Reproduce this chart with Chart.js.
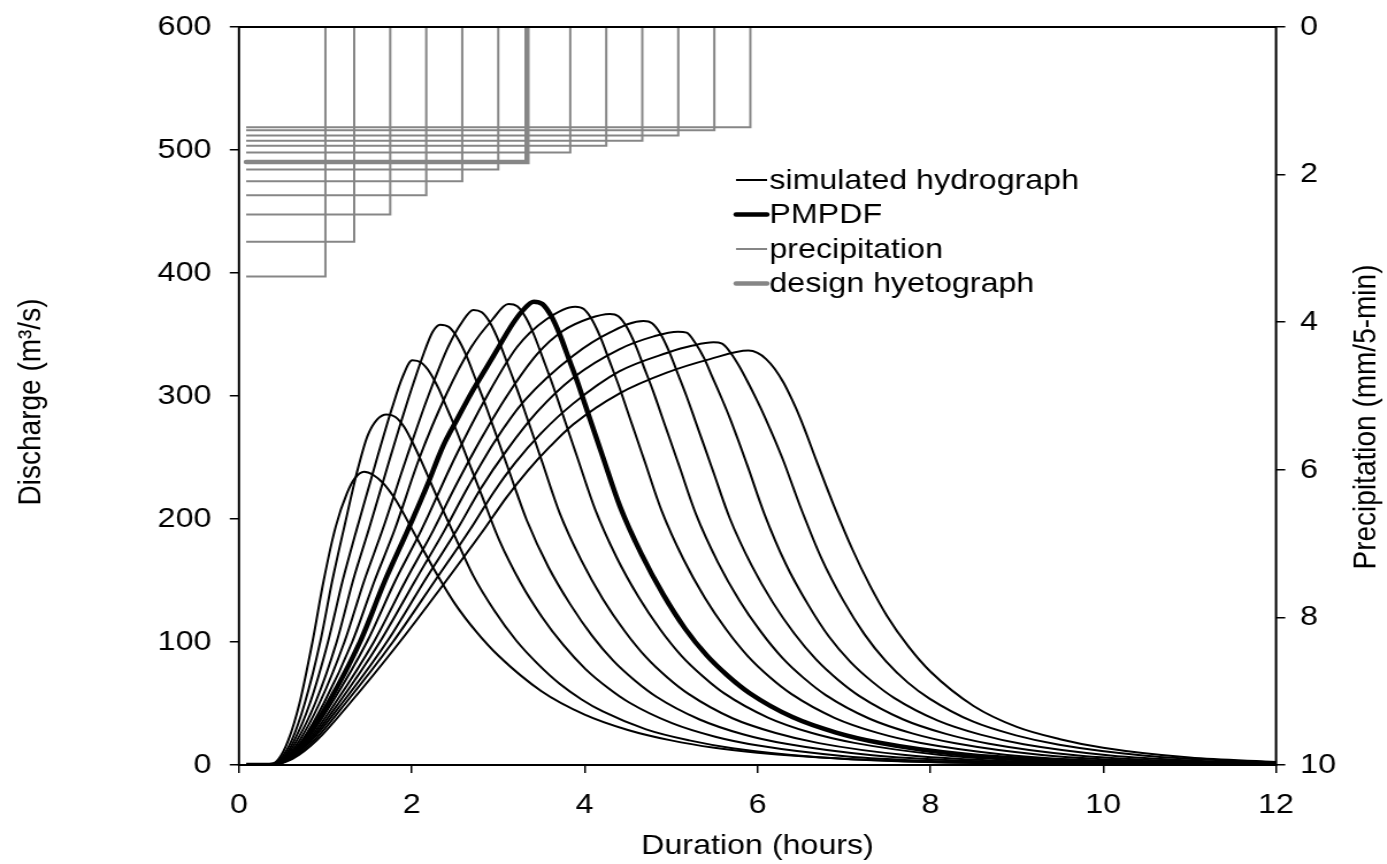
<!DOCTYPE html>
<html>
<head>
<meta charset="utf-8">
<title>Hydrographs and hyetographs</title>
<script src="https://cdn.jsdelivr.net/npm/chart.js@4.4.1/dist/chart.umd.min.js"></script>
<style>
  html, body { margin: 0; padding: 0; background: #fff; overflow: hidden; }
  /* the chart is laid out narrower and widened on screen */
  #wrap { width: 1206px; height: 864px; transform: scaleX(1.15); transform-origin: 0 0; }
</style>
</head>
<body>
<div id="wrap"><canvas id="chart"></canvas></div>
<script>
// storms start at 5 min; end times in hours, depth in mm per 5 min
const rainStart = 0.083;
const rainEnd = [1.0, 1.333, 1.75, 2.167, 2.583, 3.0, 3.333, 3.833, 4.25, 4.667, 5.083, 5.5, 5.917];
const rainDepth = [3.38, 2.91, 2.54, 2.28, 2.09, 1.93, 1.83, 1.70, 1.61, 1.54, 1.47, 1.40, 1.36];
const designIndex = 6;

// simulated discharge [hours, m3/s] for each storm length
const flow60 = [[0.083,0],[0.35,0],[0.46,5],[0.57,20],[0.70,50],[0.85,100],[0.98,150],[1.12,194],[1.25,221],[1.34,233],[1.447,238.5],[1.55,236],[1.67,229],[1.79,218],[1.90,205],[2.0,192],[2.25,160],[2.5,131],[2.75,108],[3.0,89],[3.5,60],[4.0,41],[4.5,28.5],[5.0,20],[5.5,14],[6.0,10],[7.0,5],[8.0,2.4],[9.0,1.1],[10,0.5],[12,0]];
const flow80 = [[0.083,0],[0.35,0],[0.48,5],[0.61,20],[0.76,50],[0.94,100],[1.08,150],[1.21,191],[1.38,242],[1.49,268],[1.60,281],[1.709,285],[1.81,283],[1.91,275],[2.01,262],[2.11,247],[2.21,231],[2.31,215],[2.51,184],[2.71,154],[2.96,125],[3.21,101],[3.46,82],[3.71,66],[3.96,53.5],[4.21,43.5],[4.71,29],[5.21,20],[5.71,13.7],[6.71,6.3],[7.71,2.9],[9,1.2],[12,0.1]];
const flow105 = [[0.083,0],[0.35,0],[0.50,5],[0.64,20],[0.82,50],[1.03,100],[1.20,150],[1.36,191],[1.60,250],[1.77,290],[1.89,315],[2.006,329],[2.11,327],[2.21,319],[2.31,306],[2.41,289.5],[2.51,273],[2.61,255],[2.81,219],[3.01,183],[3.26,148],[3.51,120],[3.76,97],[4.01,78],[4.26,63.2],[4.51,51],[5.01,34],[5.51,23],[6.01,15.8],[7.01,7.2],[8.01,3.3],[9.5,1.2],[12,0.2]];
const flow130 = [[0.083,0],[0.35,0],[0.51,5],[0.67,20],[0.88,50],[1.13,100],[1.32,150],[1.50,191],[1.75,250],[1.97,300],[2.14,335],[2.24,352],[2.326,358],[2.43,356],[2.53,347],[2.63,333],[2.73,315],[2.83,297],[2.93,277.5],[3.13,238],[3.33,199],[3.58,161],[3.83,131],[4.08,105.6],[4.33,84.8],[4.58,68.7],[4.83,55.5],[5.33,37],[5.83,25],[6.33,17.2],[7.33,7.9],[8.33,3.6],[10,1.1],[12,0.3]];
const flow155 = [[0.083,0],[0.35,0],[0.52,5],[0.70,20],[0.93,50],[1.22,100],[1.45,150],[1.66,191],[1.94,250],[2.19,300],[2.42,340],[2.58,360],[2.712,370],[2.81,368],[2.91,359],[3.01,344],[3.11,325.6],[3.21,307],[3.31,287],[3.51,246],[3.71,205],[3.96,166.5],[4.21,135],[4.46,109.2],[4.71,87.7],[4.96,71],[5.21,57.4],[5.71,38],[6.21,26],[6.71,17.8],[7.71,8.1],[8.71,3.7],[10,1.5],[12,0.4]];
const flow180 = [[0.083,0],[0.35,0],[0.53,5],[0.73,20],[0.98,50],[1.31,100],[1.57,150],[1.80,191],[2.09,250],[2.39,300],[2.69,340],[2.93,362],[3.117,374.8],[3.22,373],[3.32,363.6],[3.42,348.6],[3.52,330],[3.62,311],[3.72,290.5],[3.92,249],[4.12,208],[4.37,168.7],[4.62,137],[4.87,110.6],[5.12,88.8],[5.37,72],[5.62,58],[6.12,38.6],[6.62,26.2],[7.12,18],[8.12,8.2],[9.12,3.7],[10.5,1.3],[12,0.5]];
const flowPMPDF = [[0.083,0],[0.35,0],[0.55,5],[0.76,20],[1.03,50],[1.40,100],[1.69,150],[1.96,192],[2.17,226],[2.36,259],[2.52,280.5],[2.71,305],[2.94,332],[3.17,359],[3.29,370],[3.41,376.7],[3.51,374.8],[3.61,365.4],[3.71,350.3],[3.81,331.5],[3.91,312.7],[4.01,291.9],[4.21,250.5],[4.41,210],[4.66,171],[4.91,138.5],[5.16,111.1],[5.41,89.3],[5.66,72.3],[5.91,58.4],[6.41,38.8],[6.91,26.4],[7.41,18.1],[8.41,8.3],[9.41,3.8],[10.5,1.6],[12,0.6]];
const flow230 = [[0.083,0],[0.35,0],[0.56,5],[0.78,20],[1.07,50],[1.48,100],[1.81,150],[2.11,191],[2.50,250],[2.87,300],[3.22,340],[3.55,362],[3.89,372.6],[3.99,370.7],[4.09,361.4],[4.19,346.5],[4.29,327.9],[4.39,309.3],[4.49,288.8],[4.69,247.8],[4.89,206.8],[5.14,167.7],[5.39,136],[5.64,109.9],[5.89,88.3],[6.14,71.5],[6.39,57.8],[6.89,38.4],[7.39,26.1],[7.89,17.9],[8.89,8.2],[9.89,3.7],[12,0.8]];
const flow255 = [[0.083,0],[0.35,0],[0.57,5],[0.80,20],[1.11,50],[1.56,100],[1.93,150],[2.25,191],[2.5,226],[2.8,265],[3.1,300],[3.45,334],[3.75,353],[4.05,363],[4.29,366.7],[4.39,364.9],[4.49,355.7],[4.59,341],[4.69,322.7],[4.79,304.4],[4.89,284.2],[5.09,243.9],[5.29,203.5],[5.54,165],[5.79,133.8],[6.04,108.2],[6.29,86.9],[6.54,70.4],[6.79,56.8],[7.29,37.8],[7.79,25.7],[8.29,17.6],[9.29,8.1],[10.29,3.7],[12,1.0]];
const flow280 = [[0.083,0],[0.35,0],[0.58,5],[0.82,20],[1.15,50],[1.63,100],[2.04,150],[2.38,191],[2.65,226],[2.95,262],[3.30,296],[3.87,333],[4.30,352],[4.68,361],[4.78,359.2],[4.88,350.2],[4.98,335.7],[5.08,317.7],[5.18,299.6],[5.28,279.8],[5.48,240.1],[5.68,200.4],[5.93,162.5],[6.18,131.8],[6.43,106.5],[6.68,85.6],[6.93,69.3],[7.18,56],[7.68,37.2],[8.18,25.3],[8.68,17.3],[9.68,7.9],[10.68,3.6],[12,1.3]];
const flow305 = [[0.083,0],[0.35,0],[0.59,5],[0.84,20],[1.19,50],[1.71,100],[2.15,150],[2.52,191],[2.8,225],[3.1,256],[3.45,287],[3.87,315],[4.40,338],[4.80,348.5],[5.08,352.3],[5.18,351.5],[5.28,343],[5.38,331],[5.48,315],[5.58,299],[5.68,282],[5.88,244],[6.08,204],[6.33,163],[6.58,131],[6.83,104],[7.08,83.5],[7.33,67.6],[7.58,54.6],[8.08,36.3],[8.58,24.7],[9.08,16.9],[10.08,7.8],[11.08,3.5],[12,1.6]];
const flow330 = [[0.083,0],[0.35,0],[0.60,5],[0.87,20],[1.23,50],[1.78,100],[2.27,150],[2.67,191],[2.95,222],[3.2,246],[3.5,270],[3.87,294],[4.40,320],[4.95,335],[5.25,341],[5.49,343.6],[5.59,342.5],[5.69,335],[5.79,324],[5.89,311],[5.99,297],[6.09,282],[6.29,249],[6.49,211],[6.74,168],[6.99,134],[7.24,106],[7.49,84],[7.74,67],[7.99,54],[8.49,35.4],[8.99,24.1],[9.49,16.5],[10.49,7.6],[11.49,3.4],[12,2.2]];
const flow355 = [[0.083,0],[0.35,0],[0.62,5],[0.90,20],[1.28,50],[1.86,100],[2.40,150],[2.83,191],[3.1,218],[3.35,240],[3.6,259],[3.87,277],[4.40,302],[4.95,319],[5.45,330],[5.895,336.9],[6.0,335],[6.1,330],[6.2,322],[6.3,311],[6.4,297],[6.5,281],[6.7,244],[6.9,208],[7.1,175],[7.3,146],[7.5,121],[7.75,96],[8.0,76],[8.5,48],[9.0,31],[9.5,21],[10,14],[11,6],[12,2.5]];

const flows = [flow60, flow80, flow105, flow130, flow155, flow180, flowPMPDF, flow230, flow255, flow280, flow305, flow330, flow355];

const xTicks = [0, 2, 4, 6, 8, 10, 12];
const qTicks = [0, 100, 200, 300, 400, 500, 600];
const pTicks = [0, 2, 4, 6, 8, 10];

const legendLabels = ['simulated hydrograph', 'PMPDF', 'precipitation', 'design hyetograph'];

const GRAY = '#868686';
const FONT_FAMILY = '"Liberation Sans", Arial, sans-serif';
const FONT_SIZE = 28;

Chart.defaults.font.family = FONT_FAMILY;
Chart.defaults.font.size = FONT_SIZE;
Chart.defaults.color = '#000';

// step outline of one storm: flat at its depth, then back up to zero
function stormLine(i) {
    return [[rainStart, rainDepth[i]], [rainEnd[i], rainDepth[i]], [rainEnd[i], 0]];
}

let datasets = [];

datasets.push({
    label: 'PMPDF',
    data: flowPMPDF,
    yAxisID: 'y',
    borderColor: '#000',
    borderWidth: 4.5,
    cubicInterpolationMode: 'monotone'
});

flows.forEach((f, i) => {
    if (i === designIndex) return;
    datasets.push({
        label: 'simulated hydrograph',
        data: f,
        yAxisID: 'y',
        borderColor: '#000',
        borderWidth: 2,
        cubicInterpolationMode: 'monotone'
    });
});

datasets.push({
    label: 'design hyetograph',
    data: stormLine(designIndex),
    yAxisID: 'y1',
    borderColor: GRAY,
    borderWidth: 4.5,
    borderCapStyle: 'round',
    tension: 0
});

rainEnd.forEach((e, i) => {
    if (i === designIndex) return;
    datasets.push({
        label: 'precipitation',
        data: stormLine(i),
        yAxisID: 'y1',
        borderColor: GRAY,
        borderWidth: 2,
        tension: 0
    });
});

datasets.forEach(d => {
    d.pointRadius = 0;
    d.pointHoverRadius = 0;
    d.fill = false;
});

// box round the plot, axis titles and the legend
const decorations = {
    id: 'decorations',
    afterDatasetsDraw(chart) {
        const ctx = chart.ctx;
        const a = chart.chartArea;
        ctx.save();
        ctx.strokeStyle = '#000';
        ctx.lineWidth = 2;
        ctx.strokeRect(a.left, a.top, a.right - a.left, a.bottom - a.top);
        ctx.restore();
    },
    afterDraw(chart) {
        const ctx = chart.ctx;
        const a = chart.chartArea;
        ctx.save();
        ctx.fillStyle = '#000';
        ctx.font = FONT_SIZE + 'px ' + FONT_FAMILY;
        ctx.textAlign = 'center';
        ctx.textBaseline = 'alphabetic';
        ctx.fillText('Duration (hours)', (a.left + a.right) / 2, 854);

        ctx.textBaseline = 'middle';
        ctx.save();
        ctx.translate(27, 402);
        ctx.rotate(-Math.PI / 2);
        ctx.fillText('Discharge (m\u00b3/s)', 0, 0);
        ctx.restore();

        ctx.save();
        ctx.translate(1188, 417);
        ctx.rotate(-Math.PI / 2);
        ctx.fillText('Precipitation (mm/5-min)', 0, 0);
        ctx.restore();

        const styles = [['#000', 2], ['#000', 4.5], [GRAY, 2], [GRAY, 4.5]];
        const rowY = [180, 214.5, 249, 283.5];
        ctx.textAlign = 'left';
        ctx.textBaseline = 'alphabetic';
        legendLabels.forEach((text, i) => {
            ctx.beginPath();
            ctx.strokeStyle = styles[i][0];
            ctx.lineWidth = styles[i][1];
            ctx.lineCap = styles[i][1] > 3 ? 'round' : 'butt';
            ctx.moveTo(640, rowY[i]);
            ctx.lineTo(667, rowY[i]);
            ctx.stroke();
            ctx.fillText(text, 669, rowY[i] + 8.5);
        });
        ctx.restore();
    }
};

function tickGrid(len) {
    return {
        drawOnChartArea: false,
        drawTicks: true,
        tickLength: len,
        color: '#000',
        lineWidth: 1.5
    };
}

// fixed axis sizes so the plot box lands in the same place every time
function fixWidth(w) {
    return s => { s.width = w; s.paddingTop = 0; s.paddingBottom = 0; };
}

new Chart(document.getElementById('chart'), {
    type: 'line',
    data: { datasets: datasets },
    options: {
        responsive: true,
        maintainAspectRatio: false,
        animation: false,
        events: [],
        layout: { padding: { top: 27, left: 0, right: 0, bottom: 0 } },
        plugins: {
            legend: { display: false },
            tooltip: { enabled: false }
        },
        scales: {
            x: {
                type: 'linear',
                min: xTicks[0],
                max: xTicks[xTicks.length - 1],
                afterBuildTicks: s => { s.ticks = xTicks.map(v => ({ value: v })); },
                afterFit: s => { s.height = 99; s.paddingLeft = 0; s.paddingRight = 0; },
                grid: tickGrid(8),
                border: { display: false },
                ticks: { padding: 15, maxRotation: 0 }
            },
            y: {
                position: 'left',
                min: qTicks[0],
                max: qTicks[qTicks.length - 1],
                afterBuildTicks: s => { s.ticks = qTicks.map(v => ({ value: v })); },
                afterFit: fixWidth(207.8),
                grid: tickGrid(8),
                border: { display: false },
                ticks: { padding: 16 }
            },
            y1: {
                position: 'right',
                reverse: true,
                min: pTicks[0],
                max: pTicks[pTicks.length - 1],
                afterBuildTicks: s => { s.ticks = pTicks.map(v => ({ value: v })); },
                afterFit: fixWidth(96.4),
                grid: tickGrid(8),
                border: { display: false },
                ticks: { padding: 13 }
            }
        }
    },
    plugins: [decorations]
});
</script>
</body>
</html>
